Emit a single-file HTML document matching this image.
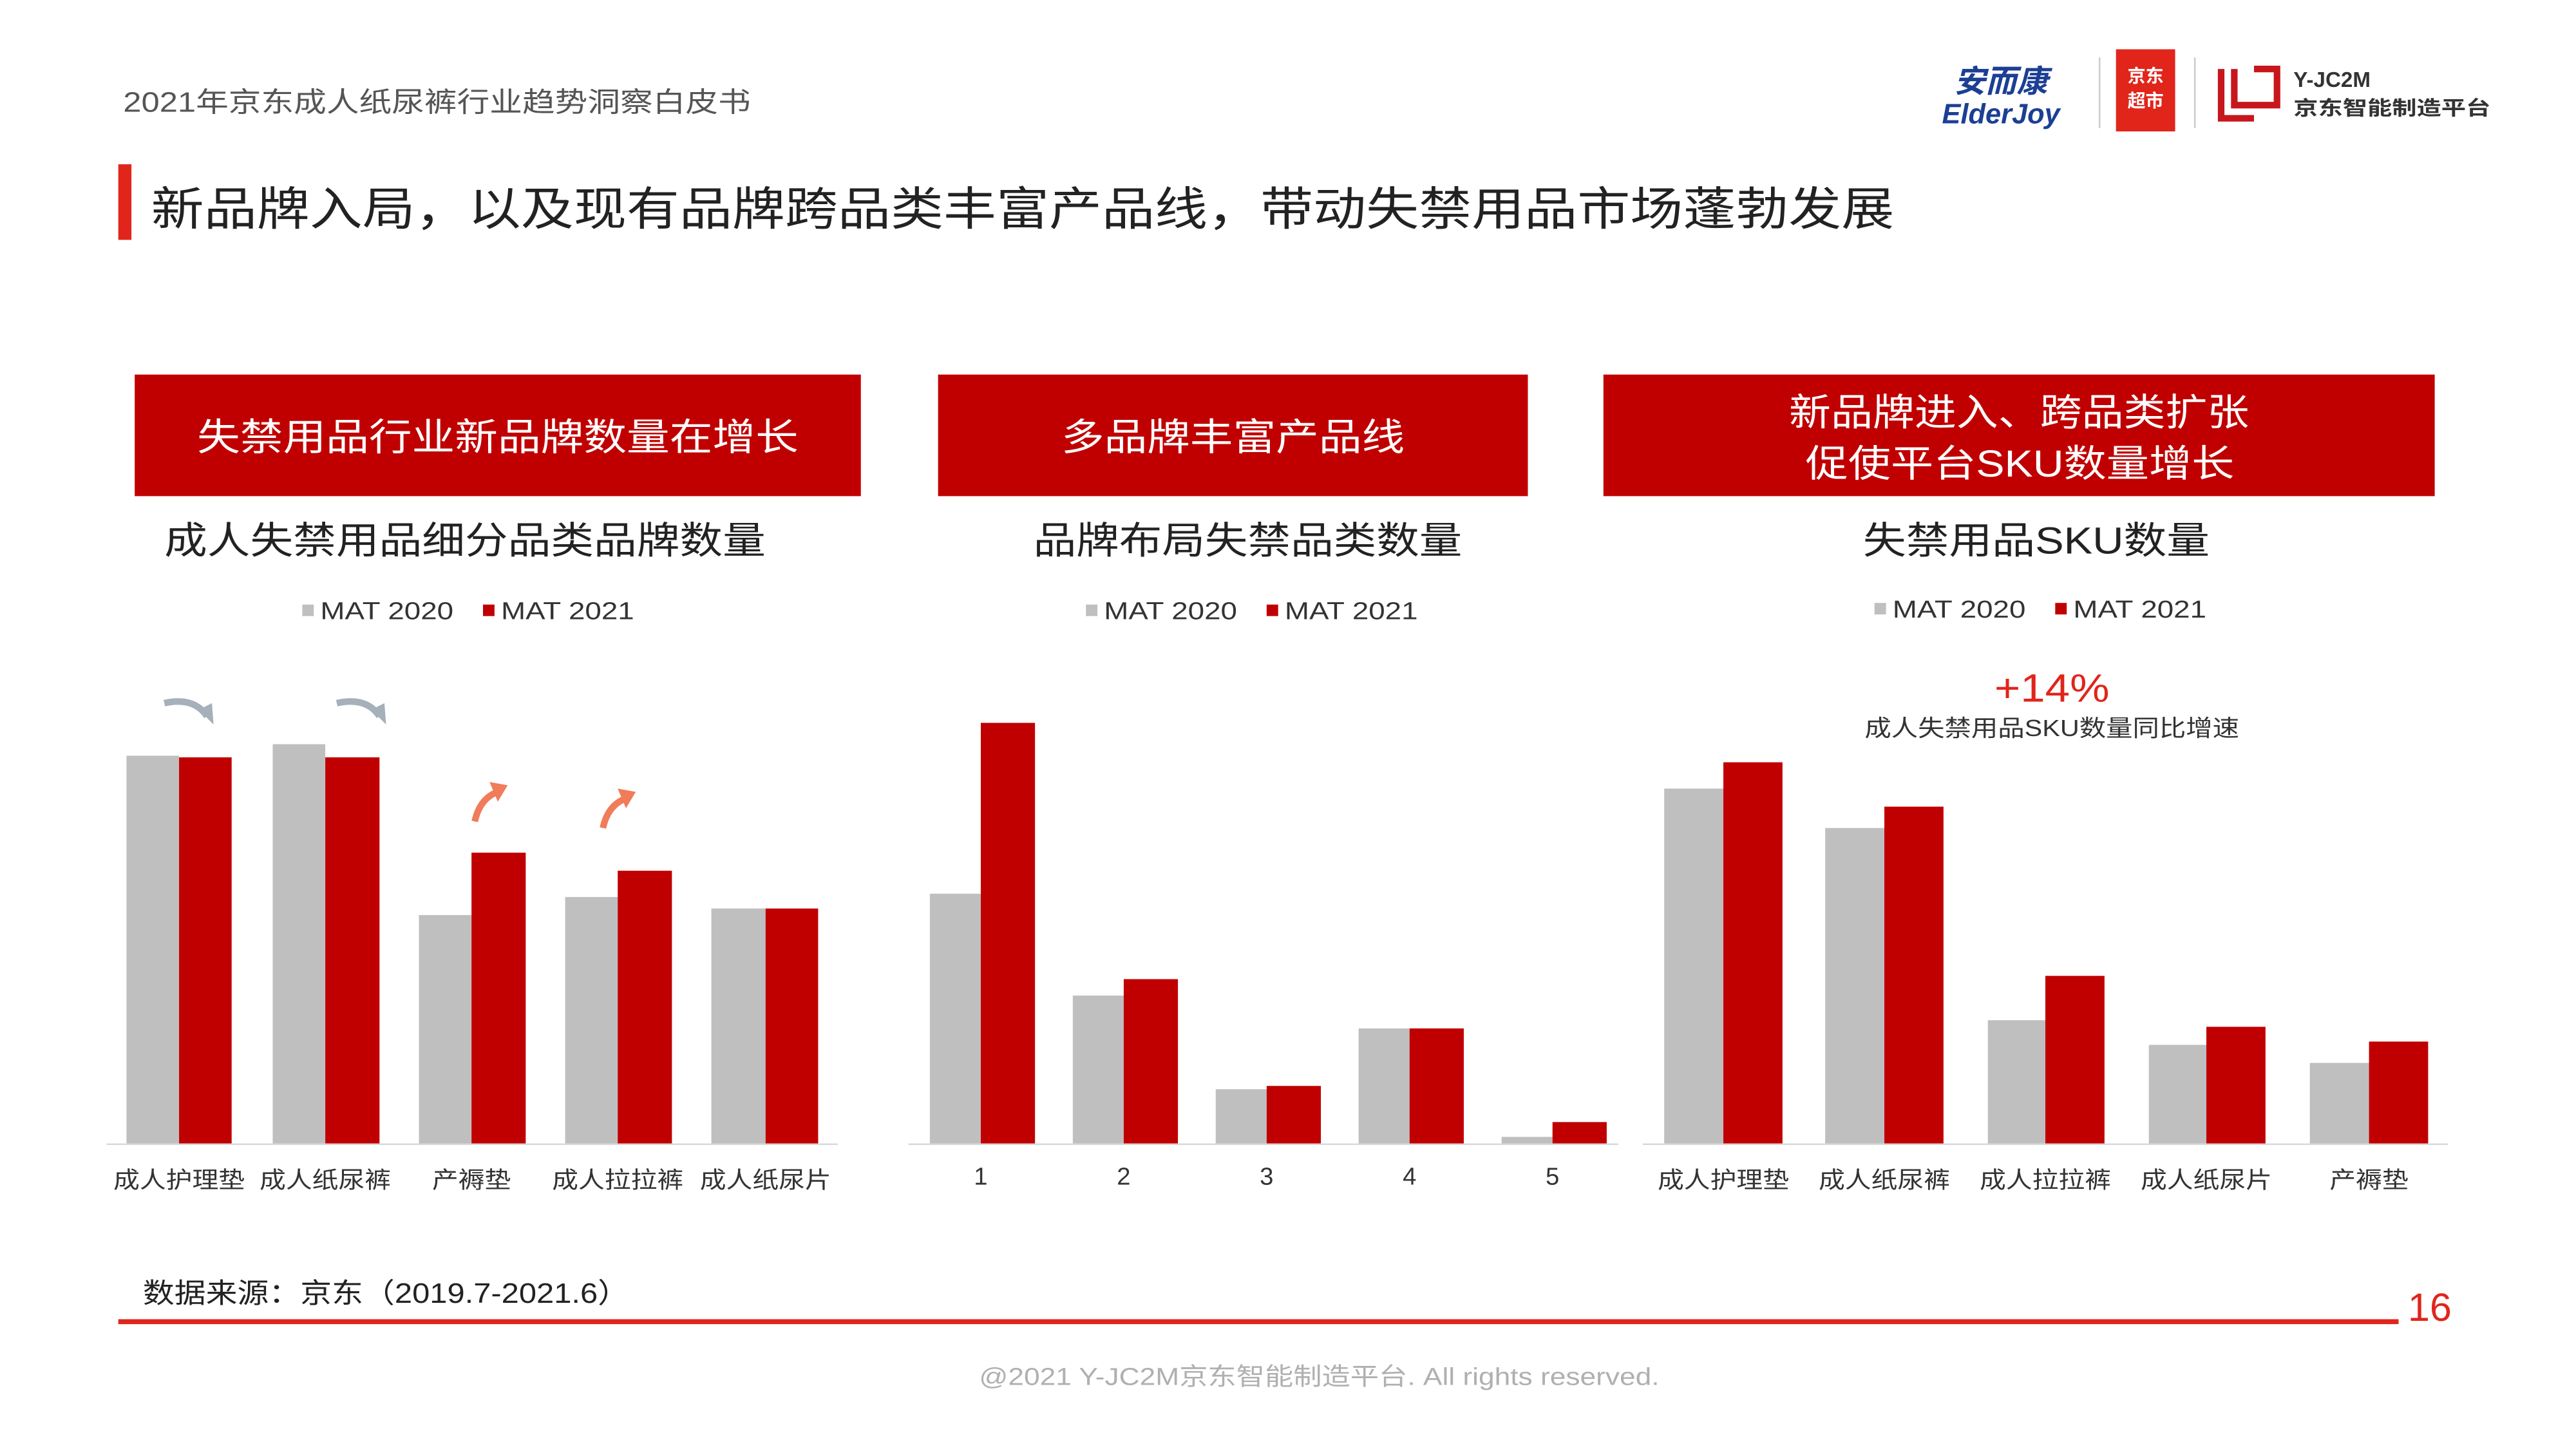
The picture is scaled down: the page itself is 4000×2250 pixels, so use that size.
<!DOCTYPE html>
<html><head><meta charset="utf-8">
<style>
html,body{margin:0;padding:0;background:#fff;}
svg{display:block;}
text{font-family:"Liberation Sans","Noto Sans CJK SC",sans-serif;}
</style></head>
<body>
<svg width="4000" height="2250" viewBox="0 0 1568 882" xmlns="http://www.w3.org/2000/svg">
<rect width="1568" height="882" fill="#fff"/>
<text x="75" y="68" font-size="17" fill="#555" textLength="382" lengthAdjust="spacingAndGlyphs">2021年京东成人纸尿裤行业趋势洞察白皮书</text>
<!-- logos -->
<text x="1218" y="56" font-size="19" font-weight="bold" fill="#1c3f94" text-anchor="middle" font-style="italic">安而康</text>
<text x="1218" y="75" font-size="17" font-weight="bold" fill="#1c3f94" text-anchor="middle" font-style="italic">ElderJoy</text>
<line x1="1278" y1="35" x2="1278" y2="78" stroke="#ccc"/>
<rect x="1288" y="30" width="36" height="50" fill="#e1251b"/>
<text x="1306" y="50" font-size="11" fill="#fff" text-anchor="middle" font-weight="bold">京东</text>
<text x="1306" y="65" font-size="11" fill="#fff" text-anchor="middle" font-weight="bold">超市</text>
<line x1="1336" y1="35" x2="1336" y2="78" stroke="#ccc"/>
<path d="M1352 42 L1352 72 L1372 72 M1360 42 L1360 64 L1386 64 L1386 42 L1372 42" stroke="#c8161d" stroke-width="4" fill="none"/>
<text x="1396" y="53" font-size="13" font-weight="bold" fill="#333">Y-JC2M</text>
<text x="1396" y="70" font-size="12" font-weight="bold" fill="#333" textLength="120" lengthAdjust="spacingAndGlyphs">京东智能制造平台</text>
<!-- title -->
<rect x="72" y="100" width="8" height="46" fill="#e1251b"/>
<text x="92" y="137" font-size="28" fill="#222" textLength="1061" lengthAdjust="spacingAndGlyphs">新品牌入局，以及现有品牌跨品类丰富产品线，带动失禁用品市场蓬勃发展</text>
<!-- header boxes -->
<rect x="82" y="228" width="442" height="74" fill="#c00000"/>
<text x="120" y="274" font-size="23" fill="#fff" textLength="366" lengthAdjust="spacingAndGlyphs">失禁用品行业新品牌数量在增长</text>
<rect x="571" y="228" width="359" height="74" fill="#c00000"/>
<text x="646" y="274" font-size="23" fill="#fff" textLength="209" lengthAdjust="spacingAndGlyphs">多品牌丰富产品线</text>
<rect x="976" y="228" width="506" height="74" fill="#c00000"/>
<text x="1089" y="259" font-size="23" fill="#fff" textLength="280" lengthAdjust="spacingAndGlyphs">新品牌进入、跨品类扩张</text>
<text x="1099" y="290" font-size="23" fill="#fff" textLength="261" lengthAdjust="spacingAndGlyphs">促使平台SKU数量增长</text>
<!-- subtitles -->
<text x="100" y="337" font-size="23" fill="#222" textLength="366" lengthAdjust="spacingAndGlyphs">成人失禁用品细分品类品牌数量</text>
<text x="629" y="337" font-size="23" fill="#222" textLength="261" lengthAdjust="spacingAndGlyphs">品牌布局失禁品类数量</text>
<text x="1134" y="337" font-size="23" fill="#222" textLength="211" lengthAdjust="spacingAndGlyphs">失禁用品SKU数量</text>
<!-- legends -->
<g font-size="15" fill="#333">
<rect x="184" y="368" width="7" height="7" fill="#bfbfbf"/><text x="195" y="377" textLength="81" lengthAdjust="spacingAndGlyphs">MAT 2020</text>
<rect x="294" y="368" width="7" height="7" fill="#c00000"/><text x="305" y="377" textLength="81" lengthAdjust="spacingAndGlyphs">MAT 2021</text>
<rect x="661" y="368" width="7" height="7" fill="#bfbfbf"/><text x="672" y="377" textLength="81" lengthAdjust="spacingAndGlyphs">MAT 2020</text>
<rect x="771" y="368" width="7" height="7" fill="#c00000"/><text x="782" y="377" textLength="81" lengthAdjust="spacingAndGlyphs">MAT 2021</text>
<rect x="1141" y="367" width="7" height="7" fill="#bfbfbf"/><text x="1152" y="376" textLength="81" lengthAdjust="spacingAndGlyphs">MAT 2020</text>
<rect x="1251" y="367" width="7" height="7" fill="#c00000"/><text x="1262" y="376" textLength="81" lengthAdjust="spacingAndGlyphs">MAT 2021</text>
</g>
<!-- chart 1 -->
<g>
<rect x="77" y="460" width="32" height="236" fill="#bfbfbf"/><rect x="109" y="461" width="32" height="235" fill="#c00000"/>
<rect x="166" y="453" width="32" height="243" fill="#bfbfbf"/><rect x="198" y="461" width="33" height="235" fill="#c00000"/>
<rect x="255" y="557" width="32" height="139" fill="#bfbfbf"/><rect x="287" y="519" width="33" height="177" fill="#c00000"/>
<rect x="344" y="546" width="32" height="150" fill="#bfbfbf"/><rect x="376" y="530" width="33" height="166" fill="#c00000"/>
<rect x="433" y="553" width="33" height="143" fill="#bfbfbf"/><rect x="466" y="553" width="32" height="143" fill="#c00000"/>
<line x1="65" y1="696.5" x2="510" y2="696.5" stroke="#d9d9d9" stroke-width="1"/>
<g font-size="14" fill="#333" text-anchor="middle">
<text x="109" y="723" textLength="80" lengthAdjust="spacingAndGlyphs">成人护理垫</text><text x="198" y="723" textLength="80" lengthAdjust="spacingAndGlyphs">成人纸尿裤</text><text x="287" y="723" textLength="48" lengthAdjust="spacingAndGlyphs">产褥垫</text><text x="376" y="723" textLength="80" lengthAdjust="spacingAndGlyphs">成人拉拉裤</text><text x="466" y="723" textLength="80" lengthAdjust="spacingAndGlyphs">成人纸尿片</text>
</g>
<path d="M100 428 Q118 424 126 436" stroke="#a6b0bb" stroke-width="4" fill="none"/><path d="M121 432 L130 441 L129 428 Z" fill="#a6b0bb"/>
<path d="M205 428 Q223 424 231 436" stroke="#a6b0bb" stroke-width="4" fill="none"/><path d="M226 432 L235 441 L234 428 Z" fill="#a6b0bb"/>
<path d="M289 500 Q292 486 303 482" stroke="#f07c5a" stroke-width="4" fill="none"/><path d="M298 476 L309 478 L303 488 Z" fill="#f07c5a"/>
<path d="M367 504 Q370 490 381 486" stroke="#f07c5a" stroke-width="4" fill="none"/><path d="M376 480 L387 482 L381 492 Z" fill="#f07c5a"/>
</g>
<!-- chart 2 -->
<g>
<rect x="566" y="544" width="31" height="152" fill="#bfbfbf"/><rect x="597" y="440" width="33" height="256" fill="#c00000"/>
<rect x="653" y="606" width="31" height="90" fill="#bfbfbf"/><rect x="684" y="596" width="33" height="100" fill="#c00000"/>
<rect x="740" y="663" width="31" height="33" fill="#bfbfbf"/><rect x="771" y="661" width="33" height="35" fill="#c00000"/>
<rect x="827" y="626" width="31" height="70" fill="#bfbfbf"/><rect x="858" y="626" width="33" height="70" fill="#c00000"/>
<rect x="914" y="692" width="31" height="4" fill="#bfbfbf"/><rect x="945" y="683" width="33" height="13" fill="#c00000"/>
<line x1="553" y1="696.5" x2="985" y2="696.5" stroke="#d9d9d9"/>
<g font-size="15" fill="#333" text-anchor="middle">
<text x="597" y="721">1</text><text x="684" y="721">2</text><text x="771" y="721">3</text><text x="858" y="721">4</text><text x="945" y="721">5</text>
</g>
</g>
<!-- chart 3 -->
<g>
<text x="1249" y="427" font-size="24" fill="#e1251b" text-anchor="middle" textLength="70" lengthAdjust="spacingAndGlyphs">+14%</text>
<text x="1249" y="448" font-size="14" fill="#333" text-anchor="middle" textLength="228" lengthAdjust="spacingAndGlyphs">成人失禁用品SKU数量同比增速</text>
<rect x="1013" y="480" width="36" height="216" fill="#bfbfbf"/><rect x="1049" y="464" width="36" height="232" fill="#c00000"/>
<rect x="1111" y="504" width="36" height="192" fill="#bfbfbf"/><rect x="1147" y="491" width="36" height="205" fill="#c00000"/>
<rect x="1210" y="621" width="35" height="75" fill="#bfbfbf"/><rect x="1245" y="594" width="36" height="102" fill="#c00000"/>
<rect x="1308" y="636" width="35" height="60" fill="#bfbfbf"/><rect x="1343" y="625" width="36" height="71" fill="#c00000"/>
<rect x="1406" y="647" width="36" height="49" fill="#bfbfbf"/><rect x="1442" y="634" width="36" height="62" fill="#c00000"/>
<line x1="1000" y1="696.5" x2="1490" y2="696.5" stroke="#d9d9d9"/>
<g font-size="14" fill="#333" text-anchor="middle">
<text x="1049" y="723" textLength="80" lengthAdjust="spacingAndGlyphs">成人护理垫</text><text x="1147" y="723" textLength="80" lengthAdjust="spacingAndGlyphs">成人纸尿裤</text><text x="1245" y="723" textLength="80" lengthAdjust="spacingAndGlyphs">成人拉拉裤</text><text x="1343" y="723" textLength="80" lengthAdjust="spacingAndGlyphs">成人纸尿片</text><text x="1442" y="723" textLength="48" lengthAdjust="spacingAndGlyphs">产褥垫</text>
</g>
</g>
<!-- footer -->
<text x="87" y="793" font-size="17" fill="#222" textLength="296" lengthAdjust="spacingAndGlyphs">数据来源：京东（2019.7-2021.6）</text>
<rect x="72" y="803" width="1388" height="3" fill="#e1251b"/>
<text x="1479" y="804" font-size="24" fill="#e1251b" text-anchor="middle">16</text>
<text x="596" y="843" font-size="15" fill="#b0b0b0" textLength="414" lengthAdjust="spacingAndGlyphs">@2021 Y-JC2M京东智能制造平台. All rights reserved.</text>
</svg>
</body></html>
